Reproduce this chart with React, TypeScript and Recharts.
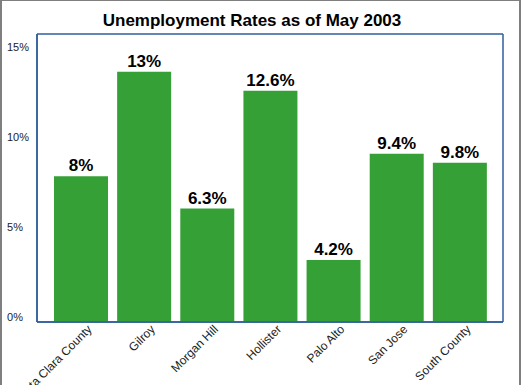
import { BarChart, Bar, XAxis, YAxis, LabelList, CartesianGrid } from 'recharts';

const areas = ['Santa Clara County', 'Gilroy', 'Morgan Hill', 'Hollister', 'Palo Alto', 'San Jose', 'South County'];
// bar heights as drawn in the picture (the printed labels differ a little)
const rates = [8.1, 13.9, 6.3, 12.85, 3.45, 9.35, 8.85];
const rateLabels = ['8%', '13%', '6.3%', '12.6%', '4.2%', '9.4%', '9.8%'];
const yTicks = [0, 5, 10, 15];

const data = areas.map((name, i) => ({ name, rate: rates[i], label: rateLabels[i] }));

const FONT = '"Liberation Sans", Arial, sans-serif';
const BLUE = '#2f5e9b';
const GREEN = '#35a035';

const YTick = ({ y, payload }: any) => (
  <text x={7} y={y} dy={-1} fontSize={11} fontFamily={FONT} fill="#222">
    {payload.value}%
  </text>
);

const XTick = ({ x, y, payload }: any) => (
  <text
    transform={`translate(${x + 12},${y}) rotate(-45)`}
    textAnchor="end"
    fontSize={12}
    fontFamily={FONT}
    fill="#222"
  >
    {payload.value}
  </text>
);

// frame lines along the edges of the plot area
const frameRows = ({ offset }: any) => [offset.top, offset.top + offset.height];
const frameCols = ({ offset }: any) => [offset.left, offset.left + offset.width];

export default function App() {
  return (
    <div style={{ position: 'absolute', left: 0, top: 0, width: 521, height: 385, overflow: 'hidden', background: '#fff' }}>
      <div
        style={{
          position: 'absolute',
          left: 0,
          top: 11,
          width: 504,
          textAlign: 'center',
          fontFamily: FONT,
          fontWeight: 'bold',
          fontSize: 17,
          lineHeight: '20px',
          color: '#000',
        }}
      >
        Unemployment Rates as of May 2003
      </div>
      <BarChart width={521} height={385} data={data} margin={{ top: 34, right: 18, bottom: 0, left: 0 }}>
        <CartesianGrid
          stroke={BLUE}
          strokeWidth={1.5}
          horizontalCoordinatesGenerator={frameRows}
          verticalCoordinatesGenerator={frameCols}
        />
        <XAxis
          dataKey="name"
          height={63}
          padding={{ left: 12, right: 12 }}
          tickLine={false}
          axisLine={{ stroke: BLUE, strokeWidth: 1.5 }}
          tick={<XTick />}
          interval={0}
        />
        <YAxis
          width={37}
          domain={[0, 16]}
          ticks={yTicks}
          tickLine={false}
          axisLine={{ stroke: BLUE, strokeWidth: 1.5 }}
          tick={<YTick />}
        />
        <Bar dataKey="rate" fill={GREEN} barSize={54} isAnimationActive={false}>
          <LabelList
            dataKey="label"
            position="top"
            offset={5}
            fontSize={17}
            fontWeight="bold"
            fontFamily={FONT}
            fill="#000"
          />
        </Bar>
      </BarChart>
      <div
        style={{
          position: 'absolute',
          left: 0,
          top: 0,
          width: 521,
          height: 385,
          boxSizing: 'border-box',
          borderTop: '1px solid #7f7f7f',
          borderLeft: '2px solid #7f7f7f',
          borderRight: '2px solid #7f7f7f',
          pointerEvents: 'none',
        }}
      />
    </div>
  );
}
